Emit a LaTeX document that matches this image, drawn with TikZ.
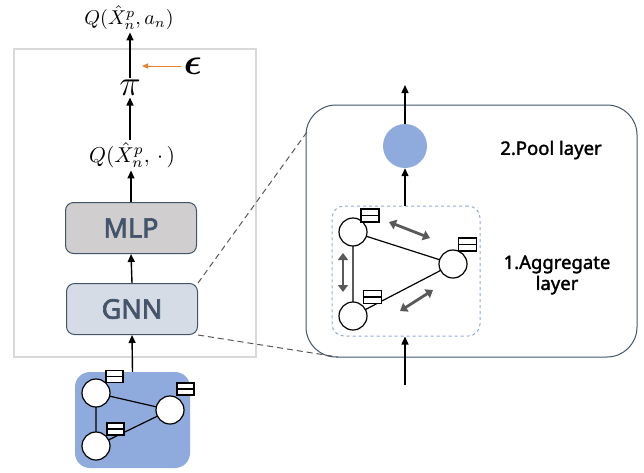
\documentclass[tikz,border=0pt]{standalone}
\usepackage{amsmath}
\usepackage{fontspec}
\setsansfont{Noto Sans}
\newfontfamily\boxfont{Noto Sans}[FakeBold=2.5]
\newfontfamily\lblfont{Noto Sans}[FakeBold=1.8]
\usetikzlibrary{arrows.meta}
\definecolor{bluef}{HTML}{8FAADC}
\definecolor{slate}{HTML}{44546A}
\definecolor{mlpf}{HTML}{D0CECE}
\definecolor{gnnf}{HTML}{D6DCE5}
\definecolor{framec}{HTML}{D9D9D9}
\definecolor{orangeA}{HTML}{ED7D31}
\definecolor{darkg}{HTML}{595959}
\begin{document}
\begin{tikzpicture}[x=1pt,y=-1pt,
 arr/.style={-{Triangle[length=8pt,width=7pt]}, line width=1.4pt},
 blk/.style={draw=slate, line width=1pt, rounded corners=8pt, minimum width=131pt, minimum height=51pt, font=\boxfont\fontsize{27}{30}\selectfont, text=slate},
 gnode/.style={circle, draw, line width=1.2pt, fill=white, minimum size=28pt, inner sep=0pt},
 feat/.style={draw, line width=1.2pt, fill=white, minimum width=17pt, minimum height=12pt, inner sep=0pt, path picture={\draw[line width=1.2pt] (path picture bounding box.west) -- (path picture bounding box.east);}},
 dbl/.style={{Triangle[length=7pt,width=10pt]}-{Triangle[length=7pt,width=10pt]}, line width=2.8pt, darkg},
 dsh/.style={dash pattern=on 6pt off 4pt, darkg, line width=1pt},
 lbl/.style={font=\lblfont\fontsize{18.5}{21}\selectfont, align=center},
 mth/.style={inner sep=1pt},
 edge/.style={line width=1.2pt}
]
\useasboundingbox (0,0) rectangle (644,472);
\draw[framec, line width=1.5pt] (14,49) rectangle (256,357);

% left column
\node[mth, scale=2.0] (qa) at (129,18) {$Q(\hat{X}_n^p, a_n)$};
\node[scale=1.45, inner sep=1pt] (pi) at (130,88) {\Huge$\pi$};
\node[fill=white, inner sep=2pt, scale=1.5] (eps) at (193,66) {\Huge$\boldsymbol{\epsilon}$};
\coordinate (epstip) at (142,66);
\node[mth, scale=2.15] (qdot) at (132,155) {$Q(\hat{X}_n^p,\,\cdot\,)$};
\node[blk, fill=mlpf] (mlp) at (131,228) {MLP};
\node[blk, fill=gnnf] (gnn) at (132,309) {GNN};

% input graph
\node[fill=bluef, rounded corners=15pt, minimum width=115pt, minimum height=96pt] (gbox) at (132.5,420) {};
\coordinate (a1c) at (96,393);
\coordinate (a2c) at (170,410);
\coordinate (a3c) at (96,446);
\draw[edge] (a1c) -- (a2c) -- (a3c) -- cycle;
\node[gnode] (a1) at (a1c) {};
\node[gnode] (a2) at (a2c) {};
\node[gnode] (a3) at (a3c) {};
\node[feat] (f1) at (114.5,376.5) {};
\node[feat] (f2) at (185.5,389) {};
\node[feat] (f3) at (115.5,429) {};

\draw[arr] (gbox.north) -- (gnn.south);
\draw[arr] (gnn.north) -- (mlp.south);
\draw[arr] (mlp.north) -- (mlp.north |- qdot.south);
\draw[arr] (qdot.north -| pi) -- (pi.south);
\draw[arr] (pi.north) -- (pi.north |- qa.south);
\draw[orangeA, -{Triangle[length=6pt,width=5pt]}, line width=1pt] (eps.west) -- (epstip);

% zoom box
\node[draw=slate, line width=1pt, rounded corners=30pt, minimum width=331pt, minimum height=252pt] (big) at (471.5,231) {};
\coordinate (zt) at (307,132);
\coordinate (zb) at (338,357);
\draw[dsh] (gnn.north east) -- (zt);
\draw[dsh] (gnn.south east) -- (zb);

\node[circle, fill=bluef, minimum size=44pt, inner sep=0pt] (pool) at (405,146) {};
\node[draw=bluef, dashed, line width=1pt, rounded corners=12pt, minimum width=148pt, minimum height=130pt] (agg) at (406,271) {};
\coordinate (topout) at (405,85);
\coordinate (botin) at (405,385);
\draw[arr] (pool.north) -- (topout);
\draw[arr] (pool.south |- agg.north) -- (pool.south);
\draw[arr] (botin) -- (pool.south |- agg.south);

\coordinate (b1c) at (353,232);
\coordinate (b2c) at (453,264);
\coordinate (b3c) at (353,316);
\draw[edge] (b1c) -- (b2c) -- (b3c) -- cycle;
\node[gnode] (b1) at (b1c) {};
\node[gnode] (b2) at (b2c) {};
\node[gnode] (b3) at (b3c) {};
\node[feat, minimum width=18pt, minimum height=13pt] (g1) at (370,215.5) {};
\node[feat, minimum width=18pt, minimum height=13pt] (g2) at (467.5,244.5) {};
\node[feat, minimum width=18pt, minimum height=13pt] (g3) at (372.5,297) {};

\coordinate (d1a) at (389,222); \coordinate (d1b) at (430,238);
\coordinate (d2a) at (343,253); \coordinate (d2b) at (343,292);
\coordinate (d3a) at (400,311); \coordinate (d3b) at (433,290);
\draw[dbl] (d1a) -- (d1b);
\draw[dbl] (d2a) -- (d2b);
\draw[dbl] (d3a) -- (d3b);

\node[lbl] (pooll) at (551,150) {2.Pool layer};
\node[lbl] (aggl) at (557,275) {1.Aggregate\\layer};
\end{tikzpicture}
\end{document}
